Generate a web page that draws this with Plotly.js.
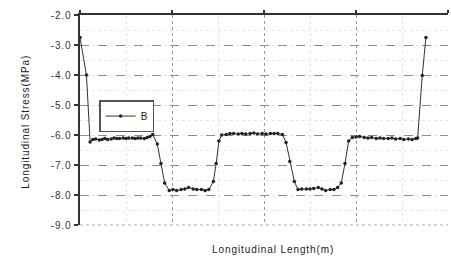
<!DOCTYPE html>
<html>
<head>
<meta charset="utf-8">
<script src="https://cdn.plot.ly/plotly-3.0.1.min.js"></script>
<style>
  html, body { margin: 0; padding: 0; background: #fff; }
  #chart { width: 451px; height: 256px; }
  #chart svg text { letter-spacing: 0.9px; }
</style>
</head>
<body>
<div id="chart"></div>
<script>
// Longitudinal position (m) and longitudinal stress (MPa), series "B"
const lengthM = [0, 0.7, 1.1, 1.4, 1.7, 2.1, 2.4, 2.7, 3.0, 3.4, 3.7, 4.0, 4.3, 4.7, 5.0, 5.3, 5.7, 6.0, 6.3, 6.6, 7.0, 7.3, 7.6, 7.9,
  8.4, 8.8, 9.2, 9.7, 10.1, 10.5, 11.0, 11.4, 11.8, 12.3, 12.7, 13.2, 13.6, 14.0, 14.5, 14.8, 15.1, 15.4,
  15.9, 16.3, 16.7, 17.2, 17.6, 18.0, 18.5, 18.9, 19.3, 19.8, 20.2, 20.7, 21.1, 21.5, 22.0,
  22.4, 22.8, 23.3, 23.7, 24.1, 24.6, 25.0, 25.4, 25.9, 26.3, 26.7, 27.2, 27.6, 28.0, 28.4, 28.8, 29.2, 29.6,
  30.0, 30.4, 30.9, 31.3, 31.7, 32.2, 32.6, 33.0, 33.5, 33.9, 34.3, 34.8, 35.2, 35.7, 36.1, 36.5, 36.7, 37.2, 37.6];
const stressB = [-2.75, -4.0, -6.23, -6.15, -6.13, -6.17, -6.15, -6.12, -6.15, -6.13, -6.1, -6.12, -6.12, -6.1, -6.12, -6.1, -6.1, -6.12, -6.1, -6.1, -6.12, -6.08, -6.05, -5.98,
  -6.3, -6.95, -7.6, -7.85, -7.82, -7.85, -7.82, -7.8, -7.75, -7.8, -7.82, -7.82, -7.85, -7.82, -7.55, -6.95, -6.2, -6.0,
  -5.98, -5.95, -5.95, -5.97, -5.95, -5.97, -5.95, -5.93, -5.97, -5.95, -5.97, -5.95, -5.95, -5.95, -5.98,
  -6.25, -6.88, -7.55, -7.82, -7.8, -7.8, -7.8, -7.78, -7.75, -7.8, -7.85, -7.82, -7.82, -7.75, -7.6, -6.95, -6.2, -6.08,
  -6.07, -6.05, -6.08, -6.1, -6.08, -6.12, -6.1, -6.12, -6.12, -6.1, -6.13, -6.12, -6.15, -6.13, -6.15, -6.12, -6.1, -4.02, -2.75];
const seriesName = "B";
const yTickVals = [-9, -8, -7, -6, -5, -4, -3, -2];
const yTickText = ["-9.0", "-8.0", "-7.0", "-6.0", "-5.0", "-4.0", "-3.0", "-2.0"];
const xTitle = "Longitudinal Length(m)";
const yTitle = "Longitudinal Stress(MPa)";

const fontFam = "'Liberation Sans', Arial, sans-serif";

const trace = {
  x: lengthM, y: stressB, name: seriesName,
  type: "scatter", mode: "lines+markers",
  line: { color: "#333", width: 1 },
  marker: { color: "#222", size: 3.5, symbol: "circle" },
  showlegend: true
};

const layout = {
  width: 451, height: 256,
  margin: { l: 80, r: 3, t: 15, b: 31 },
  paper_bgcolor: "#fff", plot_bgcolor: "#fff",
  font: { family: fontFam, size: 10, color: "#333" },
  showlegend: true,
  legend: {
    x: 0.052, y: 0.595, xanchor: "left", yanchor: "top",
    bordercolor: "#555", borderwidth: 1.5, bgcolor: "#fff",
    font: { family: fontFam, size: 10, color: "#222" },
    itemwidth: 30, tracegroupgap: 0
  },
  xaxis: {
    range: [0, 40], dtick: 10, showticklabels: false,
    showline: false, zeroline: false,
    showgrid: true, gridcolor: "#9a9a9a", griddash: "dot", gridwidth: 1,
    ticks: "",
    minor: { dtick: 5, showgrid: true, gridcolor: "#e2e2e2", griddash: "dot" }
  },
  xaxis2: {
    overlaying: "x", side: "top", anchor: "y",
    range: [0, 40], dtick: 10, showticklabels: false,
    showline: true, linecolor: "#333", linewidth: 2.5,
    ticks: "outside", ticklen: 3, tickwidth: 2, tickcolor: "#333",
    showgrid: false, zeroline: false
  },
  yaxis: {
    range: [-9, -2], tickvals: yTickVals, ticktext: yTickText,
    showline: true, linecolor: "#333", linewidth: 2.5,
    ticks: "outside", ticklen: 4, tickwidth: 1.5, tickcolor: "#333",
    zeroline: false,
    showgrid: true, gridcolor: "#8c8c8c", griddash: "dash", gridwidth: 1,
    tickfont: { family: fontFam, size: 10, color: "#333" },
    minor: { dtick: 0.5, showgrid: true, gridcolor: "#e6e6e6", griddash: "dot" }
  },
  shapes: [
    { type: "line", xref: "paper", yref: "paper", x0: 0, x1: 1, y0: 0, y1: 0,
      line: { color: "#c8c8c8", width: 1.5, dash: "dot" }, layer: "below" }
  ],
  annotations: [
    { text: xTitle, xref: "paper", yref: "paper", x: 0.525, y: -0.115,
      xanchor: "center", yanchor: "middle", showarrow: false,
      font: { family: fontFam, size: 10, color: "#222" } },
    { text: yTitle, xref: "paper", yref: "paper", x: -0.15, y: 0.49,
      xanchor: "center", yanchor: "middle", textangle: -90, showarrow: false,
      font: { family: fontFam, size: 10, color: "#222" } }
  ]
};

Plotly.newPlot("chart", [trace, { x: [], y: [], xaxis: "x2", showlegend: false, hoverinfo: "skip" }], layout, { displayModeBar: false, staticPlot: true });
</script>
</body>
</html>
